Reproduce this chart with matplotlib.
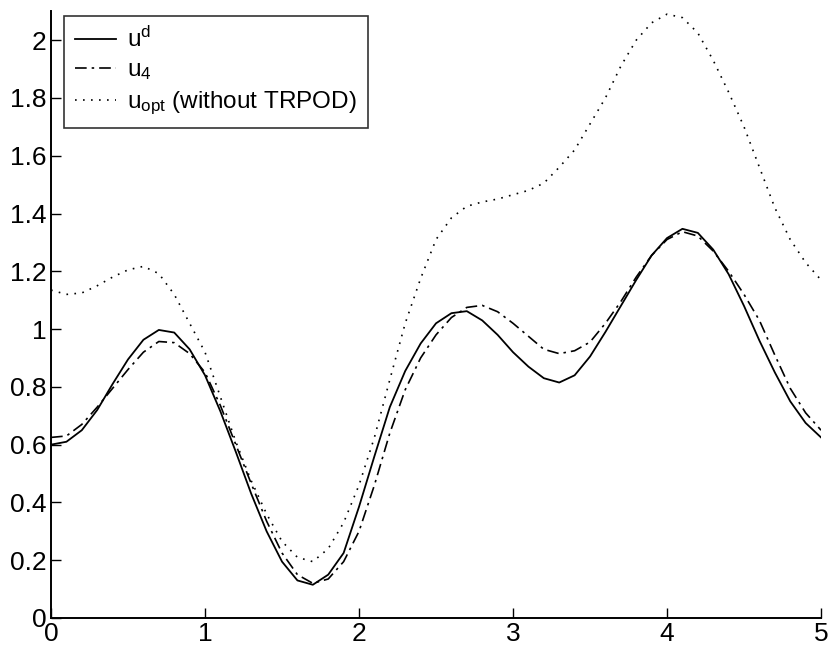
import numpy as np
from matplotlib import pyplot as plt

plt.rcParams['font.family'] = ['Liberation Sans', 'DejaVu Sans']
plt.rcParams['mathtext.fontset'] = 'custom'
plt.rcParams['mathtext.rm'] = 'Liberation Sans'
plt.rcParams['mathtext.it'] = 'Liberation Sans'

# sample positions (read every 0.1)
t = np.round(np.arange(0, 5.01, 0.1), 2)

# desired control u^d
u_d = [0.600, 0.610, 0.650, 0.720, 0.810, 0.895, 0.963, 0.997, 0.988, 0.930,
       0.840, 0.715, 0.575, 0.430, 0.300, 0.195, 0.130, 0.115, 0.150, 0.225,
       0.385, 0.560, 0.730, 0.855, 0.950, 1.020, 1.055, 1.062, 1.030, 0.980,
       0.920, 0.870, 0.830, 0.815, 0.840, 0.905, 0.990, 1.080, 1.170, 1.255,
       1.315, 1.347, 1.333, 1.275, 1.190, 1.080, 0.960, 0.850, 0.750, 0.675,
       0.625]

# u_4
u_4 = [0.625, 0.630, 0.670, 0.730, 0.795, 0.860, 0.920, 0.957, 0.953, 0.915,
       0.850, 0.735, 0.600, 0.465, 0.335, 0.225, 0.150, 0.120, 0.135, 0.195,
       0.300, 0.460, 0.640, 0.790, 0.900, 0.980, 1.040, 1.075, 1.082, 1.060,
       1.020, 0.975, 0.930, 0.915, 0.925, 0.955, 1.020, 1.095, 1.180, 1.255,
       1.310, 1.337, 1.322, 1.270, 1.200, 1.120, 1.030, 0.910, 0.795, 0.710,
       0.650]

# u_opt without TRPOD
u_opt = [1.135, 1.120, 1.125, 1.150, 1.180, 1.205, 1.217, 1.192, 1.120, 1.020,
         0.920, 0.765, 0.610, 0.475, 0.360, 0.265, 0.210, 0.195, 0.240, 0.330,
         0.460, 0.625, 0.825, 1.020, 1.175, 1.310, 1.385, 1.425, 1.440, 1.450,
         1.465, 1.480, 1.505, 1.560, 1.620, 1.710, 1.800, 1.910, 2.000, 2.060,
         2.090, 2.078, 2.025, 1.930, 1.820, 1.700, 1.560, 1.420, 1.310, 1.230,
         1.170]

yticks = [0, 0.2, 0.4, 0.6, 0.8, 1, 1.2, 1.4, 1.6, 1.8, 2]
ylabels = ['0', '0.2', '0.4', '0.6', '0.8', '1', '1.2', '1.4', '1.6', '1.8', '2']
xticks = [0, 1, 2, 3, 4, 5]

fig = plt.figure(figsize=(8.31, 6.51), dpi=100)
ax = fig.add_axes([0.0614, 0.0507, 0.9266, 0.932])

ax.plot(t, u_d, '-', color='black', lw=1.3, label=r'$\mathregular{u^d}$')
ax.plot(t, u_4, color='black', lw=1.2, dashes=[7, 3, 1.5, 3],
        label=r'$\mathregular{u_4}$')
ax.plot(t, u_opt, color='black', lw=1.2, dashes=[1, 3.8],
        label=r'$\mathregular{u_{opt}}$ (without TRPOD)')

ax.set_xlim(0, 5)
ax.set_ylim(0, 2.1)
ax.set_xticks(xticks)
ax.set_xticklabels([str(v) for v in xticks])
ax.set_yticks(yticks)
ax.set_yticklabels(ylabels)
ax.tick_params(direction='in', length=7, width=1, labelsize=19, pad=3)
for s in ['top', 'right']:
    ax.spines[s].set_visible(False)
for s in ['left', 'bottom']:
    ax.spines[s].set_linewidth(1.4)

leg = ax.legend(loc='upper left', bbox_to_anchor=(0.017, 0.992), fontsize=17.5,
                frameon=True, fancybox=False, edgecolor='black',
                handlelength=1.7, labelspacing=0.3, borderpad=0.45,
                handletextpad=0.45, borderaxespad=0)
leg.get_frame().set_linewidth(1.2)

fig.savefig('out.png', dpi=100)
